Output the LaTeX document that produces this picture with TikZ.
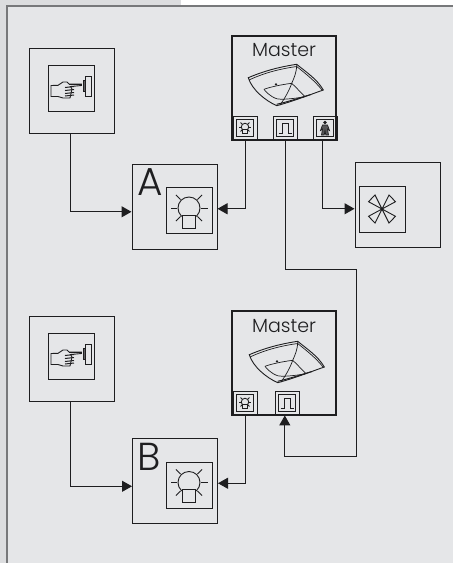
\documentclass[tikz,border=0pt]{standalone}
\usepackage{fontspec}
\setmainfont{Poppins}[UprightFont=* Light]
\usetikzlibrary{arrows.meta}
\definecolor{panelgrey}{HTML}{E5E6E8}
\definecolor{bandgrey}{HTML}{DCDDDF}
\definecolor{edgegrey}{HTML}{77787A}
\definecolor{inkgrey}{HTML}{1E1E20}
\tikzset{
	unitbox/.style={draw=inkgrey, line width=1pt, minimum size=85pt, inner sep=0pt},
	iconbox/.style={draw=inkgrey, line width=1pt, minimum size=46pt, inner sep=0pt},
	masterbox/.style={draw=inkgrey, line width=2pt, minimum size=104pt, inner sep=0pt},
	subbox/.style={draw=inkgrey, line width=0.9pt, minimum size=24pt, inner sep=0pt},
	subinner/.style={draw=inkgrey, line width=1pt, minimum size=17pt, inner sep=0pt},
	letter/.style={font=\fontsize{39}{39}\selectfont, text=inkgrey, inner sep=0pt},
	mastertext/.style={font=\fontsize{19}{19}\selectfont, text=inkgrey, inner sep=0pt},
	conn/.style={draw=inkgrey, line width=1pt, -{Triangle[length=10pt, width=11pt]}},
	lampicon/.pic={
		\draw[inkgrey, line width=0.9pt] (0, 0) circle (11);
		\foreach \a in {-45, 0, 45, 90, 135, 180, 225}
			\draw[inkgrey, line width=0.9pt] (\a:12) -- (\a:18.5);
		\draw[inkgrey, line width=0.9pt, fill=panelgrey] (-6.3, 7) rectangle (6.3, 20);
	},
	fanicon/.pic={
		\foreach \sx/\sy in {1/1, 1/-1, -1/1, -1/-1}
			\draw[inkgrey, line width=0.9pt] (0, 0) -- (13.5*\sx, 7.3*\sy) -- (7*\sx, 14*\sy) -- cycle;
		\fill[inkgrey] (0, 0) circle (1.6);
	},
	handicon/.pic={
		\draw[inkgrey, line width=0.9pt] (-20, -2.5) -- (-13, -2.7) -- (-8, -6) -- (-4, -6) -- (-2, -4) -- (10.5, -4)
			-- (10.5, -2.5) -- (-0.5, -1.5) -- (1, 1) -- (-1, 10) -- (-8, 10) -- (-13, 8.5) -- (-20, 8.5) -- cycle;
		% fingers
		\foreach \y in {-0.5, 2.5, 5.5, 8}
			\draw[inkgrey, line width=1pt] (-6, \y) -- (3, \y - 1);
		\draw[inkgrey, line width=1.2pt] (-2, -3.3) -- (10.5, -3.3);
		% push button
		\draw[inkgrey, line width=0.9pt] (14.7, -12) rectangle (20.3, 8);
		\draw[inkgrey, line width=0.9pt, fill=inkgrey!70] (12.7, -7.7) rectangle (14.7, 3);
	},
	sensoricon/.pic={
		\draw[inkgrey, line width=0.9pt] (-35.7, -4.3) .. controls (-20, -11) and (-5, -15) .. (12.7, -17.7)
			.. controls (22, -10) and (33, -3) .. (39.3, 8) .. controls (25, 13) and (10, 19) .. (-7.3, 23.7)
			.. controls (-18, 19) and (-32, 8) .. cycle;
		\draw[inkgrey, line width=0.7pt] (-35, -2) .. controls (-20, -9) and (-5, -13) .. (12.7, -15.5)
			.. controls (22, -8) and (31, -1) .. (38, 8);
		% seams of the shell
		\draw[inkgrey, line width=0.7pt] (12.7, -17) .. controls (12.5, -9) and (10, -4) .. (7.7, 1.3) .. controls (5, 9) and (1, 16) .. (-4, 23);
		\draw[inkgrey, line width=0.7pt] (-20, 7.3) .. controls (-14, 5) and (-2, 2.5) .. (7.7, 1.3) .. controls (13, 6) and (17, 11) .. (21, 14.7);
		\draw[inkgrey, line width=0.7pt] (-20, 7.3) .. controls (-16, 13) and (-8, 18) .. (-2.3, 17.3) .. controls (6, 17) and (14, 16) .. (21, 14.7);
		\draw[inkgrey, line width=1pt] (-7.3, 22.3) .. controls (5, 19.5) and (15, 16) .. (27, 12.5);
		\fill[inkgrey] (-8, 2.3) circle (1.3);
	},
	pulseicon/.pic={
		\draw[inkgrey, line width=0.9pt] (-6.5, 5) -- (-3, 5) -- (-3, -5) -- (3, -5) -- (3, 5) -- (6.5, 5);
	},
	personicon/.pic={
		\fill[inkgrey] (0, -5.5) circle (1.8);
		\draw[inkgrey, line width=0.7pt, fill=inkgrey!75] (-2.5, -3) -- (2.5, -3) -- (4.5, 2.5) -- (2.5, 1) -- (3.5, 7) -- (0.8, 7) -- (0, 2.5) -- (-0.8, 7) -- (-3.5, 7) -- (-2.5, 1) -- (-4.5, 2.5) -- cycle;
	},
}
\begin{document}
\begin{tikzpicture}[x=1pt, y=-1pt]
	\useasboundingbox (0, 0) rectangle (453, 563);
	% page and panel
	\fill[white] (0, 0) rectangle (453, 563);
	\fill[bandgrey] (0, 0) rectangle (181, 6);
	\fill[bandgrey] (0, 0) rectangle (7, 563);
	\fill[panelgrey] (7, 6) rectangle (453, 563);
	\draw[edgegrey, line width=1.5pt] (7, 563) -- (7, 6) -- (453, 6);
	% master units
	\node[masterbox] (masterA) at (284, 88) {};
	\node[mastertext] (textA) at (284, 50) {Master};
	\pic at (284, 82) {sensoricon};
	\node[masterbox] (masterB) at (284, 363) {};
	\node[mastertext] (textB) at (284, 326) {Master};
	\pic at (285, 359) {sensoricon};
	% push buttons
	\node[unitbox] (switchA) at (71.5, 90.5) {};
	\node[iconbox] (switchiconA) at (71, 88) {};
	\pic at (71, 88) {handicon};
	\node[unitbox] (switchB) at (71.5, 359) {};
	\node[iconbox] (switchiconB) at (71, 356) {};
	\pic at (71, 356) {handicon};
	% lamps
	\node[unitbox] (lampA) at (174.5, 206.5) {};
	\node[iconbox] (lampiconA) at (189, 210) {};
	\pic at (189, 208) {lampicon};
	\node[letter] (letterA) at (150, 182) {A};
	\node[unitbox] (lampB) at (175, 481) {};
	\node[iconbox] (lampiconB) at (189, 485) {};
	\pic at (189, 482.5) {lampicon};
	\node[letter] (letterB) at (148.7, 456.7) {B};
	% fan
	\node[unitbox] (fan) at (397.5, 205) {};
	\node[iconbox] (faniconbox) at (382, 209) {};
	\pic at (382, 209) {fanicon};
	% sockets at the foot of the master units
	\foreach \x/\y/\n in {245/128/lampsubA, 285/128/pulsesubA, 325/128/personsubA, 245/403/lampsubB, 287/403/pulsesubB}
		\node[subbox] (\n) at (\x, \y) {};
	\foreach \x/\y/\n in {245/128/lampinA, 285/128/pulseinA, 325/128/personinA, 245/403/lampinB, 287/403/pulseinB}
		\node[subinner] (\n) at (\x, \y) {};
	\pic[scale=0.34] at (245, 127) {lampicon};
	\pic[scale=0.34] at (245, 402) {lampicon};
	\pic at (285, 128) {pulseicon};
	\pic at (287, 403) {pulseicon};
	\pic at (325, 128) {personicon};
	% connections
	\coordinate (bendA) at (356, 269);
	\coordinate (bendB) at (356, 456);
	\draw[conn] (switchA.south -| 70, 0) |- (lampA.187);
	\draw[conn] (switchB.south -| 70, 0) |- (lampB.187);
	\draw[conn] (lampsubA.south) |- (lampA.-3);
	\draw[conn] (lampsubB.south) |- (lampB.-3);
	\draw[conn] (personsubA.-100) |- (fan.185);
	\draw[conn] (pulsesubA.south) |- (bendA) -- (bendB) -| (pulsesubB.-100);
\end{tikzpicture}
\end{document}
